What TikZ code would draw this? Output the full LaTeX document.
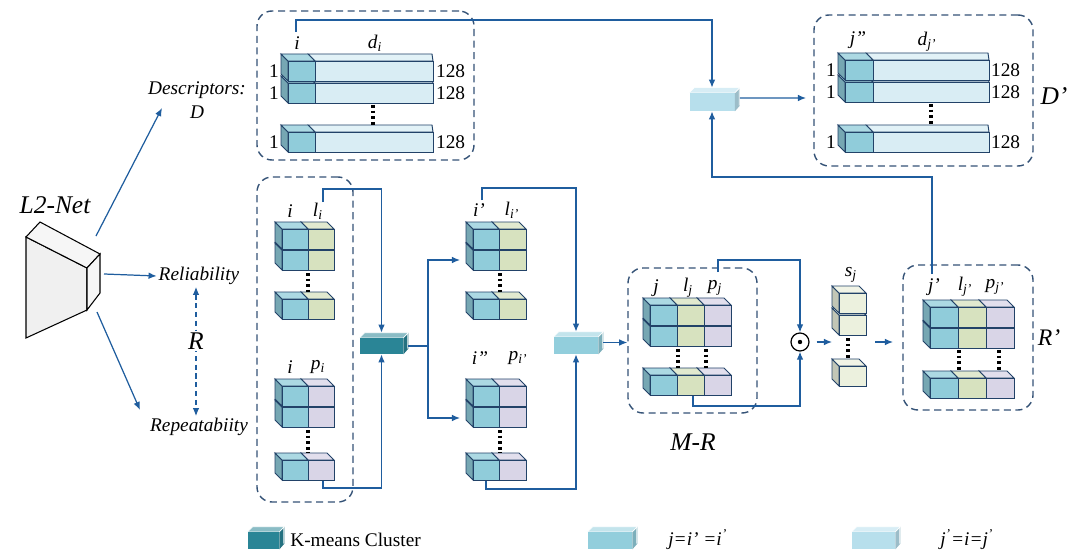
\documentclass[tikz,border=0pt]{standalone}
\usepackage{fontspec}
\setmainfont{Liberation Serif}
\usetikzlibrary{arrows.meta,positioning}

\definecolor{flowc}{RGB}{31,93,158}
\definecolor{boxln}{RGB}{52,82,118}
\definecolor{edgec}{RGB}{34,66,104}
\definecolor{cteal}{RGB}{144,204,218}
\definecolor{cgreen}{RGB}{215,226,191}
\definecolor{cpurp}{RGB}{217,213,231}
\definecolor{cpale}{RGB}{236,241,222}
\definecolor{cbar}{RGB}{217,237,244}
\definecolor{ckm}{RGB}{42,133,150}
\definecolor{cmid}{RGB}{146,206,220}
\definecolor{clite}{RGB}{183,223,236}

% cube seen from the upper left: x y w h colour
\newcommand{\blk}[5]{%
  \filldraw[cubeedge,fill=#5!82!black] (#1,#2) -- ++(-7,-7) -- ++(0,#4) -- ++(7,7) -- cycle;
  \filldraw[cubeedge,fill=#5!75!white] (#1,#2) -- ++(-7,-7) -- ++(#3,0) -- ++(7,7) -- cycle;
  \filldraw[cubeedge,fill=#5] (#1,#2) rectangle ++(#3,#4);}
% long bar: x y w h colour
\newcommand{\barblk}[5]{%
  \filldraw[cubeedge,fill=#5!75!white] (#1,#2) -- ++(-7,-7) -- ++(#3+6,0) -- ++(1,7) -- cycle;
  \filldraw[cubeedge,fill=#5] (#1,#2) rectangle ++(#3,#4);}
% flat box seen from the upper right: name cx cy w h colour
\newcommand{\flatblk}[6]{%
  \node[fill=#6,inner sep=0pt,minimum width=#4*0.02cm,minimum height=#5*0.02cm] (#1) at (#2,#3) {};
  \fill[#6!55!white] (#1.north west) -- ++(5,-5) -- ++(#4,0) -- (#1.north east) -- cycle;
  \fill[#6!85!black] (#1.north east) -- ++(5,-5) -- ++(0,#5) -- (#1.south east) -- cycle;
  \draw[white,line width=0.4pt] (#1.north west) -- ++(5,-5) -- ++(#4,0) -- ++(0,#5);
  \draw[white,line width=0.4pt] (#1.north east) -- ++(5,-5);}
\newcommand{\ssub}[2]{\textit{#1}\textsubscript{\textit{#2}}}

\begin{document}
\begin{tikzpicture}[x=0.02cm,y=-0.02cm,
  flow/.style={draw=flowc,line width=0.7pt},
  arr/.style={-{Latex[length=4.6pt,width=3.8pt]}},
  grp/.style={draw=boxln,dash pattern=on 4pt off 2.6pt,line width=0.8pt,rounded corners=0.3cm,inner sep=0pt},
  cubeedge/.style={draw=edgec,line width=0.55pt},
  dots/.style={line width=2pt,dash pattern=on 1.6pt off 1.6pt},
  lab/.style={font=\fontsize{11pt}{13pt}\selectfont\itshape,inner sep=1pt},
  num/.style={font=\fontsize{11pt}{13pt}\selectfont,inner sep=1pt},
  big/.style={font=\fontsize{14.5pt}{16pt}\selectfont\itshape,inner sep=1pt}]
\useasboundingbox (0,0) rectangle (1079,554);

% dashed groups
\node[grp,minimum width=217*0.02cm,minimum height=149*0.02cm] (dbox) at (365.5,85.5) {};
\node[grp,minimum width=96*0.02cm,minimum height=325*0.02cm] (rbox) at (305,339.5) {};
\node[grp,minimum width=129*0.02cm,minimum height=145*0.02cm] (mrbox) at (692.5,340.5) {};
\node[grp,minimum width=219*0.02cm,minimum height=151*0.02cm] (dpbox) at (923.5,90.5) {};
\node[grp,minimum width=130*0.02cm,minimum height=145*0.02cm] (rpbox) at (968,337.5) {};

% network
\filldraw[fill=gray!12,line width=0.6pt] (26,237) -- (87,268) -- (87,310) -- (26,338) -- cycle;
\filldraw[fill=gray!7,line width=0.6pt] (26,237) -- (40,222) -- (100,254) -- (87,268) -- cycle;
\filldraw[fill=gray!7,line width=0.6pt] (87,268) -- (100,254) -- (100,293) -- (87,310) -- cycle;
\node[big] (net) at (55,205) {L2-Net};
\coordinate (netT) at (96,236);
\coordinate (netM) at (104,274);
\coordinate (netB) at (97,312);

\node[lab,align=center,font=\fontsize{11pt}{13.5pt}\selectfont\itshape] (desc) at (197,100) {Descriptors:\\D};
\node[lab] (rel) at (199,276) {Reliability};
\node[lab] (rep) at (199,427) {Repeatabiity};
\coordinate (descin) at (162,108);
\coordinate (repin) at (140,410);
\draw[flow,arr] (netT) -- (descin);
\draw[flow,arr] (netM) -- (rel.west);
\draw[flow,arr] (netB) -- (repin);
\draw[flow,dash pattern=on 3pt off 2pt,{Latex[length=4.6pt,width=3.8pt]}-{Latex[length=4.6pt,width=3.8pt]}]
  ([xshift=-0.06cm]rel.south) -- ([xshift=-0.06cm]rep.north) node[big,pos=0.42,fill=white] (rlab) {R};

% descriptors D
\foreach \y in {132,83,61} {
  \barblk{315}{\y}{118}{20}{cbar}
  \blk{288}{\y}{27}{20}{cteal}
  \node[num,anchor=east] (dl-\y) at (281,\y+10) {1};
  \node[num,anchor=west] (dr-\y) at (434,\y+10) {128};
}
\draw[dots] (373,105) -- (373,125);
\node[lab] (di) at (297,43) {i};
\node[lab] (dd) at (375,43) {\ssub{d}{i}};
\coordinate (ditop) at (296,32);

% descriptors D'
\foreach \y in {132,82,60} {
  \barblk{873}{\y}{116}{20}{cbar}
  \blk{845}{\y}{28}{20}{cteal}
  \node[num,anchor=east] (el-\y) at (838,\y+10) {1};
  \node[num,anchor=west] (er-\y) at (989,\y+10) {128};
}
\draw[dots] (931,104) -- (931,125);
\node[lab] (ej) at (858,40) {j”};
\node[lab] (ed) at (927,42) {\ssub{d}{j'}};
\node[big] (dplab) at (1054,96) {D’};

% reliability and repeatability
\foreach \y in {299,250,229} {\blk{308}{\y}{26}{20}{cgreen}\blk{282}{\y}{26}{20}{cteal}}
\draw[dots] (308,273) -- (308,292);
\foreach \y in {460,407,386} {\blk{308}{\y}{26}{20}{cpurp}\blk{282}{\y}{26}{20}{cteal}}
\draw[dots] (308,430) -- (308,453);
\node[lab] (li) at (290,211) {i};
\node[lab] (ll) at (318,211) {\ssub{l}{i}};
\node[lab] (pi) at (290,367) {i};
\node[lab] (pp) at (318,367) {\ssub{p}{i}};
\coordinate (ltop) at (323,202);
\coordinate (pbot) at (323,481);

% clustered i' and i''
\foreach \y in {299,250,229} {\blk{499}{\y}{27}{20}{cgreen}\blk{473}{\y}{26}{20}{cteal}}
\draw[dots] (500,273) -- (500,292);
\foreach \y in {460,407,386} {\blk{499}{\y}{27}{20}{cpurp}\blk{473}{\y}{26}{20}{cteal}}
\draw[dots] (500,430) -- (500,453);
\node[lab] (ai) at (479,210) {i’};
\node[lab] (al) at (512,210) {\ssub{l}{i'}};
\node[lab] (bi) at (480,358) {i”};
\node[lab] (bp) at (518,358) {\ssub{p}{i'}};
\coordinate (iptop) at (482,200);
\coordinate (ippbot) at (486,481);
\coordinate (ipin) at (460,260);
\coordinate (ippin) at (460,418);

% M-R
\foreach \y in {375,326,305} {\blk{704}{\y}{27}{20}{cpurp}\blk{677}{\y}{27}{20}{cgreen}\blk{650}{\y}{27}{20}{cteal}}
\draw[dots] (678,349) -- (678,368);
\draw[dots] (706,349) -- (706,368);
\node[lab] (mj) at (656,288) {j};
\node[lab] (ml) at (688,288) {\ssub{l}{j}};
\node[lab] (mp) at (715,288) {\ssub{p}{j}};
\node[big] (mrlab) at (693,442) {M-R};
\coordinate (pjtop) at (718,272);
\coordinate (ljbot) at (693,396);

% scores s_j
\foreach \y in {366,315,293} {\blk{839}{\y}{27}{20}{cpale}}
\draw[dots] (848,338) -- (848,359);
\node[lab] (sj) at (851,275) {\ssub{s}{j}};
\coordinate (sjin) at (832,342);
\coordinate (sjout) at (875,342);
\coordinate (rpin) at (893,342);

% R'
\foreach \y in {378,328,307} {\blk{986}{\y}{28}{20}{cpurp}\blk{958}{\y}{28}{20}{cgreen}\blk{930}{\y}{28}{20}{cteal}}
\draw[dots] (959,350) -- (959,371);
\draw[dots] (999,350) -- (999,371);
\node[lab] (rj) at (934,287) {j’};
\node[lab] (rl) at (965,287) {\ssub{l}{j'}};
\node[lab] (rp) at (995,287) {\ssub{p}{j'}};
\node[big,font=\fontsize{13.5pt}{16pt}\selectfont\itshape] (rplab) at (1049,338) {R’};
\coordinate (jptop) at (932,274);

% flat boxes and product
\flatblk{km}{381.5}{346}{43}{16}{ckm}
\flatblk{lb}{576}{345.5}{44}{17}{cmid}
\flatblk{lbtop}{712}{102}{45}{18}{clite}
\node[circle,draw=black,line width=0.7pt,minimum size=18*0.02cm,inner sep=0pt] (odot) at (800,342) {};
\fill (odot.center) circle (2.2);

% connectors
\coordinate (split) at (428,346);
\coordinate (lbout) at ([xshift=0.1cm,yshift=0.06cm]lb.east);
\coordinate (topout) at ([xshift=0.1cm,yshift=0.08cm]lbtop.east);
\coordinate (dpin) at (806,98);
\draw[flow,arr] (ltop) -- ++(0,-13) -| ([yshift=0.1cm]km.north);
\draw[flow,arr] (pbot) -- ++(0,7) -| (km.south);
\draw[flow] ([xshift=0.1cm]km.east) -- (split);
\draw[flow,arr] (split) |- (ipin);
\draw[flow,arr] (split) |- (ippin);
\draw[flow,arr] (iptop) -- ++(0,-12) -| ([yshift=0.1cm]lb.north);
\draw[flow,arr] (ippbot) -- ++(0,8) -| (lb.south);
\draw[flow,arr] (lbout) -- (lbout -| mrbox.west);
\draw[flow,arr] (pjtop) -- ++(0,-12) -| (odot.north);
\draw[flow,arr] (ljbot) -- ++(0,10) -| (odot.south);
\draw[flow,arr] ([xshift=0.14cm]odot.east) -- (sjin);
\draw[flow,arr] (sjout) -- (rpin);
\draw[flow,arr] (ditop) -- ++(0,-12) -| ([yshift=0.1cm]lbtop.north);
\draw[flow,arr] (jptop) -- ++(0,-97) -| (lbtop.south);
\draw[flow,arr] (topout) -- (dpin);

% legend
\flatblk{lgk}{263.5}{540.5}{31}{17}{ckm}
\node[num,anchor=west,inner sep=0pt] (lgkt) at (290,540) {K-means Cluster};
\flatblk{lgm}{610}{540.5}{44}{17}{cmid}
\node[lab,anchor=west,inner sep=0pt] (lgmt) at (668,540) {j=i’ =i\textsuperscript{'}};
\flatblk{lgl}{873.5}{540.5}{43}{17}{clite}
\node[lab,anchor=west,inner sep=0pt] (lglt) at (940,540) {j\textsuperscript{'}=i=j\textsuperscript{'}};
\end{tikzpicture}
\end{document}
